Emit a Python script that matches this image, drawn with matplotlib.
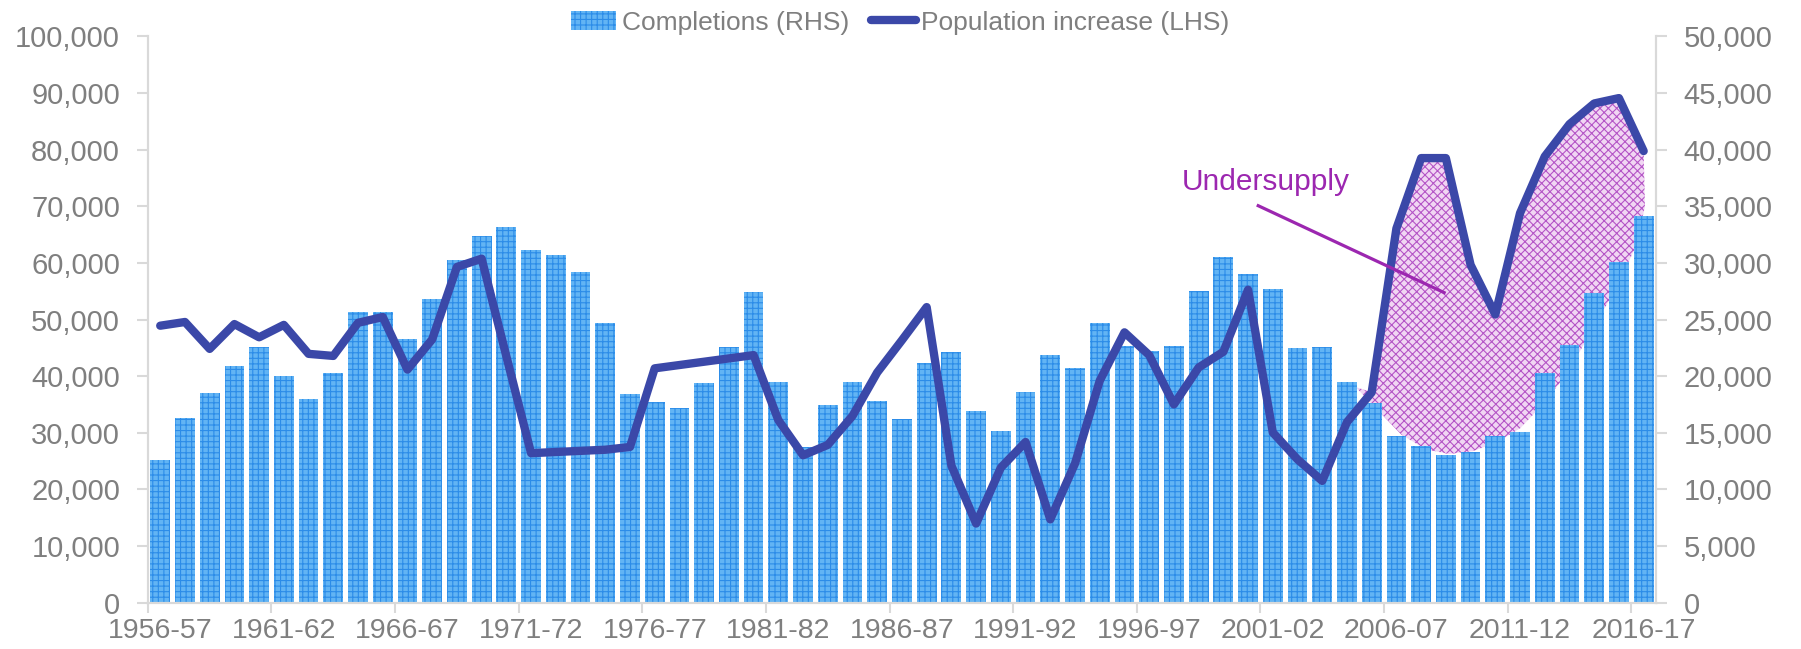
import matplotlib
matplotlib.use('Agg')
import matplotlib.pyplot as plt
from matplotlib.ticker import FuncFormatter, FixedLocator

plt.rcParams['font.family'] = ['Liberation Sans', 'DejaVu Sans']
plt.rcParams['hatch.linewidth'] = 0.8

# financial years 1956-57 .. 2016-17
years = ['%d-%02d' % (y, (y + 1) % 100) for y in range(1956, 2017)]

# dwelling completions (right axis)
completions = [12573, 16265, 18494, 20906, 22588, 19993, 18019, 20285, 25658, 25658,
               23319, 26827, 30263, 32346, 33187, 31104, 30665, 29203, 24708, 18458,
               17690, 17215, 19371, 22588, 27412, 19444, 13743, 17471, 19518, 17763,
               16228, 21126, 22112, 16886, 15168, 18567, 21857, 20760, 24708, 22700,
               22222, 22624, 27485, 30556, 29020, 27705, 22442, 22588, 19518, 17654,
               14730, 13816, 13012, 13268, 14730, 15058, 20285, 22734, 27339, 30117,
               34101]

# population increase (left axis)
population = [48904, 49561, 44810, 49196, 46857, 49050, 43933, 43567, 49415, 50439,
              41155, 46491, 59284, 60746, 43500, 26389, 26600, 26800, 27000, 27485,
              41374, 41959, 42544, 43129, 43713, 32237, 26023, 27851, 32968, 40643,
              46345, 52193, 24196, 13962, 23830, 28363, 14693, 24561, 39181, 47734,
              43713, 35000, 41520, 44298, 55263, 30044, 25292, 21491, 31871, 37135,
              66082, 78509, 78509, 59649, 50877, 68787, 78801, 84503, 88158, 89108,
              79751]

# lower edge of the shaded "undersupply" blob (category pos, left-axis value)
gap_x = [48.35, 49.23, 50.2, 51.16, 52.12, 53.08, 54.04, 55.0, 55.96, 56.93, 57.89, 58.85, 59.65, 60.05]
gap_y = [38085, 34064, 29678, 27120, 26243, 26754, 28216, 30775, 35161, 40643, 47953, 55263, 62573, 69883]

grey = '#7f7f7f'
axis_grey = '#d9d9d9'
line_col = '#3B48A8'
bar_col = '#62b4f4'
purple = '#9c27b0'

fig = plt.figure(figsize=(18.01, 6.49), dpi=100)
ax = fig.add_axes([0.0821, 0.0715, 0.8374, 0.8724])
ax2 = ax.twinx()

x = list(range(len(years)))

# undersupply area: top follows the line, bottom is the hand drawn curve
top_x = [gap_x[0]] + x[49:]
top_y = [gap_y[0]] + population[49:]
poly_x = top_x + gap_x[::-1]
poly_y = [v / 2 for v in top_y + gap_y[::-1]]
ax2.fill(poly_x, poly_y, facecolor='#f1d6f3', edgecolor='#b455c6', hatch='xxxx',
         linewidth=0, zorder=1)

bars = ax2.bar(x, completions, width=0.8, color=bar_col, edgecolor='#2c8ce8',
               hatch='+++', linewidth=0, zorder=2, label='Completions (RHS)')

ax.set_zorder(ax2.get_zorder() + 1)
ax.patch.set_visible(False)
line, = ax.plot(x, population, color=line_col, lw=6, solid_joinstyle='round',
                solid_capstyle='round', zorder=3, label='Population increase (LHS)')

ax.set_xlim(-0.5, len(years) - 0.5)
ax.set_ylim(0, 100000)
ax2.set_ylim(0, 50000)
ax.set_yticks(range(0, 100001, 10000))
ax2.set_yticks(range(0, 50001, 5000))
fmt = FuncFormatter(lambda v, p: '{:,.0f}'.format(v))
ax.yaxis.set_major_formatter(fmt)
ax2.yaxis.set_major_formatter(fmt)

# ticks between categories every 5 years, labels centred on the category
ax.xaxis.set_major_locator(FixedLocator([i - 0.5 for i in range(0, len(years), 5)]))
ax.xaxis.set_minor_locator(FixedLocator(list(range(0, len(years), 5))))
ax.set_xticklabels([''] * len(ax.get_xticks()))
ax.set_xticklabels([years[i] for i in range(0, len(years), 5)], minor=True)
ax.tick_params(axis='x', which='major', length=7, width=1.5, color=axis_grey)
ax.tick_params(axis='x', which='minor', length=0, pad=11, labelsize=20.5, labelcolor=grey)

ax.tick_params(axis='y', length=8, width=1.5, color=axis_grey, pad=12,
               labelsize=21, labelcolor=grey)
ax2.tick_params(axis='y', length=8, width=1.5, color=axis_grey, pad=12,
                labelsize=21, labelcolor=grey)

for a in (ax, ax2):
    a.spines['top'].set_visible(False)
    for s in ('left', 'right', 'bottom'):
        a.spines[s].set_color(axis_grey)
        a.spines[s].set_linewidth(1.5)

# annotation
ax.text(41.32, 74285, 'Undersupply', color=purple, fontsize=21.5, ha='left', va='center')
ax.plot([44.41, 51.93], [70099, 54751], color=purple, lw=2.3, zorder=4)

fig.legend(handles=[bars, line], loc='center', bbox_to_anchor=(0.5, 0.965), ncol=2,
           frameon=False, fontsize=19, labelcolor=grey, handlelength=1.7,
           handletextpad=0.2, columnspacing=0.85)

fig.savefig('out.png', dpi=100)
